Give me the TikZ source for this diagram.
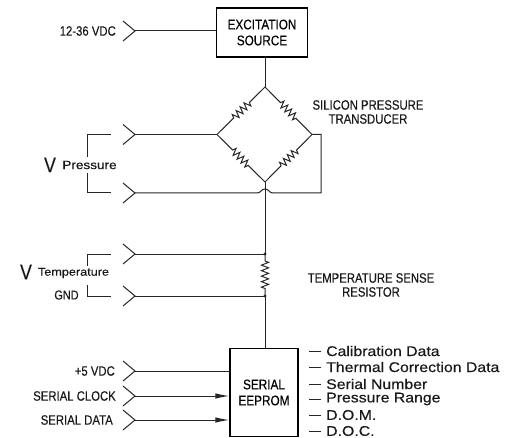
\documentclass[tikz,border=0pt]{standalone}
\usepackage{fontspec}
\setmainfont[FakeStretch=0.84, FakeBold=0.25]{Liberation Sans}
\newfontfamily\listfont[FakeStretch=1.13, FakeBold=0.35]{Liberation Sans}
\usetikzlibrary{arrows.meta, calc, decorations.pathmorphing}
\tikzset{
  wire/.style={draw=black!85, line width=1pt},
  resistor/.style={wire, decorate, decoration={zigzag, segment length=5.5, amplitude=3.5,
    pre=lineto, post=lineto, pre length=#1, post length=#1}},
  flow/.style={wire, -{Latex[length=14pt, width=5.5pt]}},
  block/.style={draw=black, line width=1.5pt, fill=white, align=center, font=\fontsize{14}{16}\selectfont},
  lbl/.style={inner sep=0pt, align=center, text=black!90, font=\fontsize{13.5}{14}\selectfont},
  lowlbl/.style={inner sep=0pt, text=black!90, font=\listfont\fontsize{12}{14}\selectfont},
  biglbl/.style={inner sep=0pt, text=black!90, font=\fontsize{21}{22}\selectfont},
  datalbl/.style={inner sep=0pt, anchor=west, text=black!90, font=\listfont\fontsize{14}{14}\selectfont},
  chevron/.pic={\draw[wire] (-12,-10) -- (0,0) -- (-12,10);}
}
\begin{document}
\begin{tikzpicture}[x=1pt, y=-1pt]
  \useasboundingbox (0,0) rectangle (516,438);
  % blocks
  \node[block, minimum width=91, minimum height=49] (excit) at (262,32.5) {EXCITATION\\SOURCE};
  \node[block, minimum width=68, minimum height=88] (eeprom) at (264,392.5) {SERIAL\\EEPROM};
  % bridge corners
  \coordinate (top) at (265,87);
  \coordinate (left) at (217,134.5);
  \coordinate (right) at (312,134.5);
  \coordinate (bot) at (265,182);
  \coordinate (turnA) at (321,134.5);
  \coordinate (turnB) at (321,193);
  \coordinate (tHi) at (265,254);
  \coordinate (tLo) at (265,296);
  % input chevrons
  \foreach \name/\ypos in {inV/31, inPa/134.5, inPb/193, inTa/254, inTb/296, inF/371, inC/396, inD/420} {
    \coordinate (\name) at (135,\ypos);
    \pic at (\name) {chevron};
  }
  \draw[wire] (inV) -- (inV -| excit.west);
  \draw[wire] (excit.south -| top) -- (top);
  \draw[resistor=22] (top) -- (right);
  \draw[resistor=22] (right) -- (bot);
  \draw[resistor=22] (top) -- (left);
  \draw[resistor=22] (left) -- (bot);
  \draw[wire] (inPa) -- (left);
  \draw[wire] (right) -- (turnA) -- (turnB) -- (273,193)
    .. controls (269,193) and (269,189) .. (265,189)
    .. controls (261,189) and (261,193) .. (257,193) -- (inPb);
  \draw[wire] (bot) -- (tHi);
  \draw[wire] (inTa) -- (tHi);
  \draw[wire] (inTb) -- (tLo);
  \draw[resistor=7] (tHi) -- (tLo);
  \draw[wire] (tLo) -- (eeprom.north -| tLo);
  \fill[black!85] (tHi) circle (1.6pt) (tLo) circle (1.6pt);
  \draw[wire] (inF) -- (inF -| eeprom.west);
  \draw[flow] (inC) -- (inC -| eeprom.west);
  \draw[flow] (inD) -- (inD -| eeprom.west);
  % brackets
  \coordinate (brPa) at (111,134.5);
  \coordinate (brPb) at (111,193);
  \coordinate (brPc) at (87,134.5);
  \coordinate (brPd) at (87,193);
  \coordinate (brTa) at (111,254);
  \coordinate (brTb) at (111,296);
  \coordinate (brTc) at (87,254);
  \coordinate (brTd) at (87,296);
  \node[lowlbl, inner ysep=4pt] (vPress) at (89.5,165) {Pressure};
  \node[biglbl] (vP) at (50,165) {V};
  \draw[wire] (brPa) -- (brPc) -- (vPress.north -| brPc);
  \draw[wire] (brPb) -- (brPd) -- (vPress.south -| brPd);
  \node[lowlbl, inner ysep=2pt, font=\listfont\fontsize{11.2}{14}\selectfont] (vTemp) at (73.5,273) {Temperature};
  \node[biglbl] (vT) at (26,272) {V};
  \node[lbl, font=\fontsize{13}{14}\selectfont] (gnd) at (66.5,295) {GND};
  \draw[wire] (brTa) -- (brTc) -- (vTemp.north -| brTc);
  \draw[wire] (brTb) -- (brTd) -- (87,285);
  % labels
  \node[lbl, anchor=east] (lblV) at (116,31) {12-36 VDC};
  \node[lbl] (lblSi) at (368,112) {SILICON PRESSURE\\TRANSDUCER};
  \node[lbl] (lblRes) at (371,285) {TEMPERATURE SENSE\\RESISTOR};
  \node[lbl, anchor=east] (lblF) at (115,371) {+5 VDC};
  \node[lbl, anchor=east] (lblC) at (116,396) {SERIAL CLOCK};
  \node[lbl, anchor=east] (lblD) at (113,420) {SERIAL DATA};
  % eeprom contents
  \foreach \name/\ypos/\txt in {cal/351/Calibration Data, therm/367/Thermal Correction Data,
    serial/384/Serial Number, press/399/Pressure Range, dom/415/D.O.M., doc/431/D.O.C.} {
    \node[datalbl] (\name) at (326,\ypos) {\txt};
    \coordinate (\name dash) at (309,\ypos);
    \draw[wire, shorten >=5pt] (\name dash) -- (\name dash -| \name.west);
  }
\end{tikzpicture}
\end{document}
